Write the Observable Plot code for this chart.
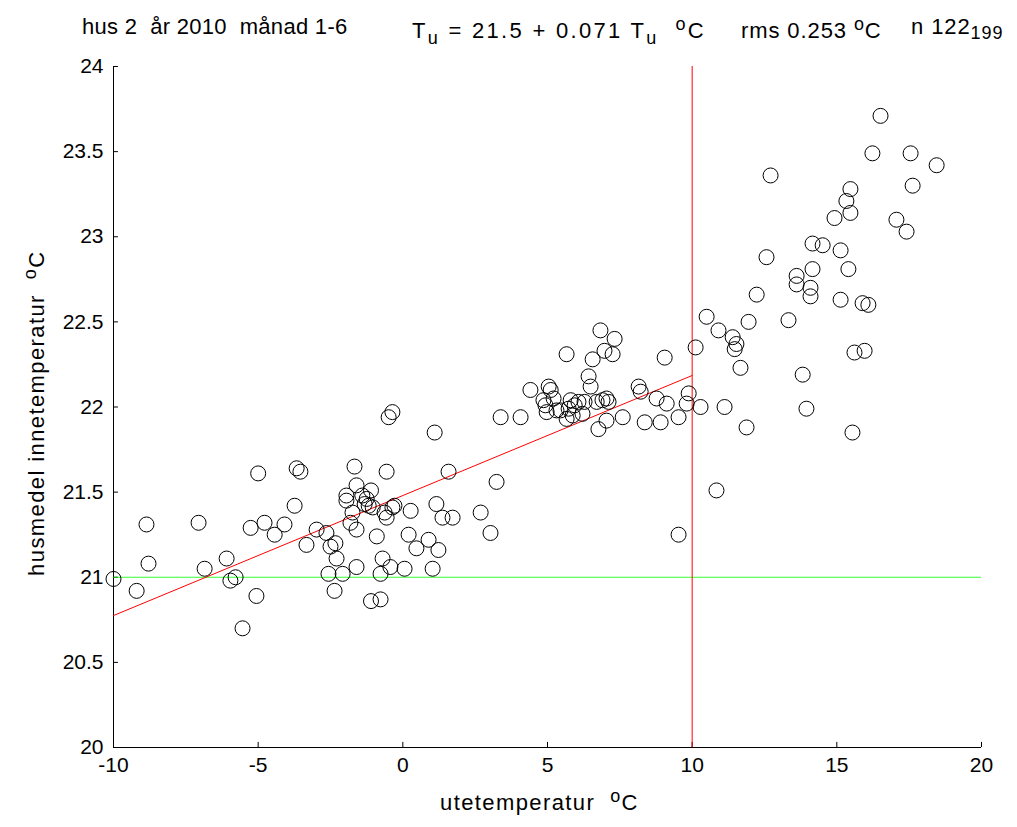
<!DOCTYPE html>
<html><head><meta charset="utf-8">
<script src="https://cdn.jsdelivr.net/npm/d3@7"></script>
<script src="https://cdn.jsdelivr.net/npm/@observablehq/plot@0.6"></script>
<style>
body{margin:0;background:#fff;font-family:"Liberation Sans",Arial,sans-serif;}
#wrap{position:relative;width:1017px;height:827px;}
.t{position:absolute;font-size:22px;color:#000;white-space:pre;letter-spacing:1.4px;}
sub,sup{font-size:18px;}
</style></head><body>
<div id="wrap">
<div class="t" style="left:82px;top:14px;letter-spacing:0.3px">hus 2  år 2010  månad 1-6</div>
<div class="t" style="left:412px;top:14px;letter-spacing:2.3px">T<sub>u</sub> = 21.5 + 0.071 T<sub>u</sub>  <sup>o</sup>C</div>
<div class="t" style="left:741px;top:14px;letter-spacing:0.9px">rms 0.253 <sup>o</sup>C</div>
<div class="t" style="left:911px;top:14px;letter-spacing:0.9px">n 122<sub>199</sub></div>
<div class="t" style="left:440px;top:786px">utetemperatur  <sup>o</sup>C</div>
<div class="t" style="left:-165px;top:398px;transform:rotate(-90deg);width:400px;text-align:center">husmedel innetemperatur  <sup>o</sup>C</div>
</div>
<script>
const outdoor = [-10,-9.2,-8.86,-8.79,-7.06,-6.85,-6.09,-5.96,-5.78,-5.54,-5.26,-5.06,-5.0,-4.78,-4.43,-4.09,-3.74,-3.67,-3.54,-3.33,-2.98,-2.64,-2.57,-2.5,-2.36,-2.33,-2.29,-2.08,-1.95,-1.95,-1.81,-1.74,-1.67,-1.6,-1.6,-1.6,-1.4,-1.32,-1.25,-1.18,-1.1,-1.1,-1.04,-0.9,-0.77,-0.77,-0.7,-0.63,-0.56,-0.56,-0.49,-0.43,-0.36,-0.36,-0.29,0.06,0.2,0.27,0.47,0.89,1.03,1.1,1.16,1.23,1.37,1.58,1.72,2.69,3.03,3.24,3.38,4.07,4.41,4.86,4.93,4.97,5.04,5.11,5.21,5.31,5.45,5.66,5.66,5.73,5.8,5.87,5.94,6.07,6.21,6.28,6.42,6.49,6.56,6.7,6.76,6.83,6.9,6.97,7.04,7.04,7.11,7.25,7.32,7.6,8.15,8.22,8.36,8.77,8.91,9.05,9.12,9.53,9.53,9.81,9.88,10.12,10.29,10.5,10.84,10.91,11.12,11.4,11.47,11.53,11.67,11.88,11.95,12.23,12.57,12.71,13.33,13.61,13.61,13.82,13.95,14.09,14.09,14.16,14.16,14.51,14.92,15.13,15.13,15.33,15.4,15.47,15.47,15.54,15.61,15.89,15.96,16.09,16.23,16.51,17.06,17.41,17.55,17.62,18.45];
const indoor = [20.99,20.92,21.31,21.08,21.32,21.05,21.11,20.98,21.0,20.70,21.29,20.89,21.61,21.32,21.25,21.31,21.42,21.64,21.62,21.19,21.28,21.26,21.02,21.18,20.92,21.2,21.11,21.02,21.48,21.45,21.32,21.38,21.65,21.54,21.28,21.06,21.48,21.43,21.46,21.42,20.86,21.51,21.41,21.24,20.87,21.02,21.11,21.38,21.62,21.35,21.94,21.06,21.97,21.41,21.42,21.05,21.25,21.39,21.17,21.22,21.05,21.85,21.43,21.16,21.35,21.62,21.35,21.38,21.26,21.56,21.94,21.94,22.1,22.04,22.01,21.97,22.12,22.1,22.05,21.98,21.98,22.31,21.93,21.99,22.04,21.95,22.01,22.03,21.96,22.03,22.18,22.12,22.28,22.03,21.87,22.45,22.04,22.33,21.92,22.05,22.03,22.31,22.4,21.94,22.12,22.09,21.91,22.05,21.91,22.29,22.02,21.25,21.94,22.02,22.08,22.35,22.0,22.53,21.51,22.45,22.0,22.41,22.34,22.37,22.23,21.88,22.5,22.66,22.88,23.36,22.51,22.72,22.77,22.19,21.99,22.7,22.65,22.81,22.96,22.95,23.11,22.63,22.92,23.21,22.81,23.14,23.28,21.85,22.32,22.61,22.33,22.6,23.49,23.71,23.1,23.03,23.49,23.3,23.42];
const xTicks = [-10,-5,0,5,10,15,20];
const yTicks = [20,20.5,21,21.5,22,22.5,23,23.5,24];
const fitX = [-10,10];
const intercept = 21.48, slope = 0.0705;
const pts = outdoor.map((x, i) => ({x, y: indoor[i]}));

const chart = Plot.plot({
  width: 1017, height: 827,
  marginLeft: 113, marginRight: 36, marginTop: 66, marginBottom: 80,
  style: {fontFamily: "Liberation Sans, Arial, sans-serif", fontSize: "21px", color: "#000"},
  x: {domain: [-10, 20]},
  y: {domain: [20, 24]},
  marks: [
    Plot.axisX({ticks: xTicks, tickSize: 0, tickPadding: 10, label: null, tickFormat: d => d}),
    Plot.axisY({ticks: yTicks, tickSize: 0, tickPadding: 10, label: null, tickFormat: d => d}),
    Plot.ruleX(xTicks, {y1: 20, y2: 20.03, stroke: "#000"}),
    Plot.ruleY(yTicks, {x1: -10, x2: -9.83, stroke: "#000"}),
    Plot.ruleX([-10], {stroke: "#000"}),
    Plot.ruleY([20], {stroke: "#000"}),
    Plot.ruleY([21], {stroke: "#00ff00", strokeWidth: 0.8}),
    Plot.ruleX([10], {stroke: "#ff0000", strokeWidth: 1}),
    Plot.line(fitX.map(x => ({x, y: intercept + slope * x})), {x: "x", y: "y", stroke: "#ff0000", strokeWidth: 1}),
    Plot.dot(pts, {x: "x", y: "y", r: 7.5, stroke: "#000", fill: "none", strokeWidth: 1})
  ]
});
chart.style.position = "absolute";
chart.style.left = "0px"; chart.style.top = "0px";
document.getElementById("wrap").prepend(chart);
</script>
</body></html>
